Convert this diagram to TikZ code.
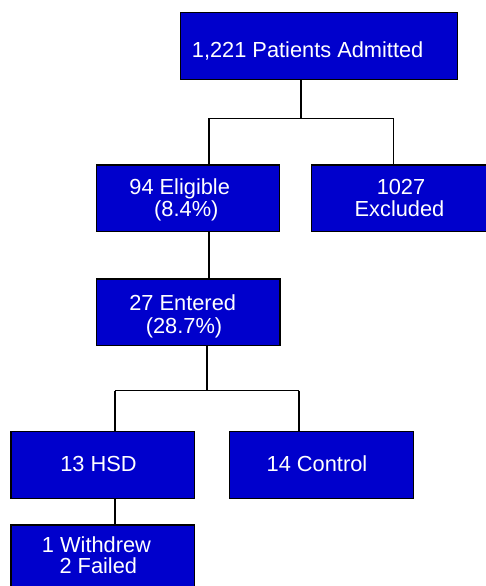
\documentclass[tikz,border=0pt]{standalone}
\usepackage{fontspec}
\setmainfont{Liberation Sans}
\definecolor{boxblue}{HTML}{0000CC}
\begin{document}
\begin{tikzpicture}[x=1pt,y=1pt,
  box/.style={draw=black,fill=boxblue,line width=1.2pt,
    minimum height=66.6pt,inner sep=0pt},
  txt/.style={text=white,inner sep=0pt,anchor=base,
    font=\fontsize{21.8}{22.5}\selectfont},
  conn/.style={draw=black,line width=1.3pt}]
\clip (0,0) rectangle (486,-586);
\node[box,minimum width=276.6pt] (top) at (319,-46) {};
\node[box,minimum width=182.6pt] (elig) at (188,-198.3) {};
\node[box,minimum width=182.6pt] (excl) at (403,-198.3) {};
\node[box,minimum width=183.3pt] (entered) at (188.3,-312.3) {};
\node[box,minimum width=183.3pt] (hsd) at (102.7,-465) {};
\node[box,minimum width=183.6pt] (control) at (321.5,-465) {};
\node[box,minimum width=183.3pt] (withdrew) at (102.7,-558.3) {};
% texts
\node[txt,anchor=base west] (topt) at (191.7,-57.8) {1,221 Patients Admitted};
\node[txt] (eligt1) at (179.7,-194.8) {94 Eligible};
\node[txt] (eligt2) at (186.3,-216.6) {(8.4\%)};
\node[txt] (exclt1) at (401,-194.5) {1027};
\node[txt] (exclt2) at (399.5,-216.1) {Excluded};
\node[txt] (entt1) at (182.7,-310.3) {27 Entered};
\node[txt] (entt2) at (184,-333.4) {(28.7\%)};
\node[txt] (hsdt) at (98.5,-471.3) {13 HSD};
\node[txt] (contt) at (317,-471.3) {14 Control};
\node[txt] (witht1) at (96.5,-552.6) {1 Withdrew};
\node[txt] (witht2) at (98.3,-573.6) {2 Failed};
% connectors
\coordinate (j1) at (301,-118.3);
\coordinate (jl) at (209,-118.3);
\coordinate (jr) at (393.3,-118.3);
\coordinate (j2) at (207,-390.7);
\coordinate (jl2) at (115,-390.7);
\coordinate (jr2) at (299,-390.7);
\coordinate (jh) at (115,-500);
\draw[conn] (top.south -| j1) -- (j1);
\draw[conn] (jl) -- (jr);
\draw[conn] (jl) -- (elig.north -| jl);
\draw[conn] (jr) -- (excl.north -| jr);
\draw[conn] (elig.south -| jl) -- (entered.north -| jl);
\draw[conn] (entered.south -| j2) -- (j2);
\draw[conn] (jl2) -- (jr2);
\draw[conn] (jl2) -- (hsd.north -| jl2);
\draw[conn] (jr2) -- (control.north -| jr2);
\draw[conn] (hsd.south -| jh) -- (withdrew.north -| jh);
\end{tikzpicture}
\end{document}
